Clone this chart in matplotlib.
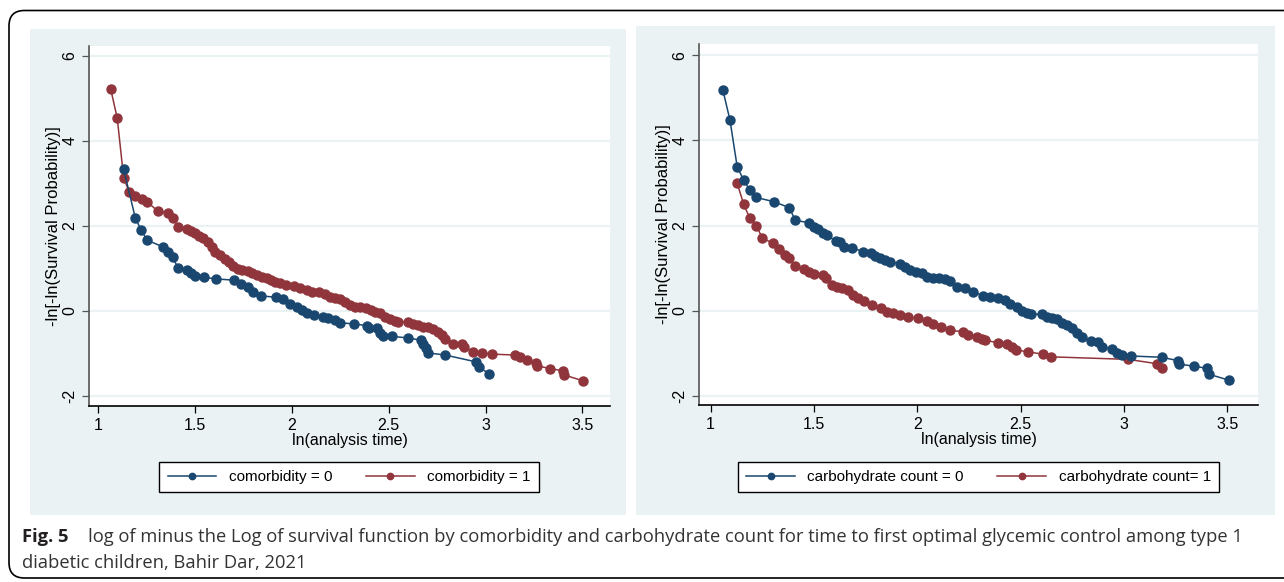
import matplotlib
matplotlib.use("Agg")
import matplotlib.pyplot as plt
from matplotlib.patches import Rectangle, FancyBboxPatch

# --- data: ln(time) and -ln[-ln(S)] ---
como0_x = [1.130, 1.190, 1.221, 1.252, 1.335, 1.359, 1.383, 1.411, 1.456, 1.478,
           1.499, 1.545, 1.607, 1.702, 1.738, 1.774, 1.800, 1.838, 1.917, 1.955,
           1.990, 2.024, 2.050, 2.076, 2.115, 2.159, 2.188, 2.222, 2.248, 2.321,
           2.390, 2.400, 2.438, 2.455, 2.469, 2.515, 2.601, 2.665, 2.679, 2.691,
           2.701, 2.791, 2.949, 2.968, 3.018]
como0_y = [3.33, 2.19, 1.89, 1.66, 1.50, 1.39, 1.26, 1.01, 0.97, 0.88,
           0.83, 0.79, 0.75, 0.72, 0.64, 0.55, 0.45, 0.35, 0.32, 0.27,
           0.16, 0.08, 0.02, -0.05, -0.09, -0.14, -0.18, -0.22, -0.28, -0.31,
           -0.35, -0.40, -0.41, -0.53, -0.60, -0.60, -0.64, -0.69, -0.77, -0.87,
           -0.99, -1.04, -1.20, -1.32, -1.49]

como1_x = [1.063, 1.097, 1.130, 1.159, 1.190, 1.223, 1.252, 1.306, 1.359, 1.383,
           1.411, 1.456, 1.478, 1.499, 1.519, 1.542, 1.564, 1.585, 1.602, 1.628,
           1.654, 1.674, 1.697, 1.722, 1.740, 1.774, 1.792, 1.818, 1.843, 1.869,
           1.890, 1.912, 1.938, 1.969, 2.010, 2.041, 2.076, 2.102, 2.141, 2.171,
           2.197, 2.222, 2.248, 2.274, 2.300, 2.326, 2.351, 2.382, 2.407, 2.429,
           2.455, 2.481, 2.507, 2.532, 2.549, 2.601, 2.627, 2.653, 2.679, 2.704,
           2.730, 2.756, 2.774, 2.791, 2.834, 2.877, 2.889, 2.937, 2.984, 3.032,
           3.152, 3.178, 3.213, 3.261, 3.264, 3.333, 3.399, 3.407, 3.505]
como1_y = [5.22, 4.53, 3.13, 2.79, 2.71, 2.62, 2.56, 2.35, 2.29, 2.19,
           1.98, 1.93, 1.88, 1.82, 1.77, 1.71, 1.62, 1.49, 1.39, 1.31,
           1.23, 1.15, 1.05, 0.99, 0.96, 0.94, 0.89, 0.84, 0.79, 0.76,
           0.72, 0.68, 0.66, 0.60, 0.58, 0.53, 0.49, 0.45, 0.45, 0.39,
           0.33, 0.29, 0.27, 0.21, 0.13, 0.08, 0.08, 0.06, 0.03, -0.02,
           -0.06, -0.14, -0.20, -0.24, -0.26, -0.26, -0.30, -0.34, -0.38, -0.39,
           -0.43, -0.49, -0.57, -0.67, -0.77, -0.78, -0.86, -0.96, -0.99, -1.02,
           -1.04, -1.08, -1.16, -1.24, -1.29, -1.36, -1.41, -1.51, -1.65]

carb0_x = [1.060, 1.094, 1.129, 1.160, 1.190, 1.221, 1.306, 1.381, 1.410, 1.476,
           1.500, 1.521, 1.542, 1.561, 1.605, 1.626, 1.645, 1.684, 1.737, 1.774,
           1.795, 1.819, 1.843, 1.868, 1.916, 1.940, 1.964, 1.993, 2.021, 2.048,
           2.077, 2.106, 2.134, 2.158, 2.190, 2.231, 2.271, 2.319, 2.352, 2.392,
           2.424, 2.448, 2.481, 2.505, 2.529, 2.548, 2.602, 2.626, 2.650, 2.674,
           2.698, 2.723, 2.747, 2.771, 2.795, 2.839, 2.875, 2.892, 2.943, 2.964,
           2.989, 3.034, 3.182, 3.262, 3.267, 3.338, 3.403, 3.412, 3.509]
carb0_y = [5.17, 4.47, 3.37, 3.07, 2.83, 2.66, 2.56, 2.42, 2.12, 2.07,
           1.97, 1.91, 1.83, 1.78, 1.64, 1.61, 1.50, 1.48, 1.39, 1.35,
           1.28, 1.23, 1.19, 1.15, 1.10, 1.03, 0.96, 0.92, 0.88, 0.80,
           0.78, 0.76, 0.74, 0.69, 0.57, 0.53, 0.45, 0.35, 0.33, 0.31,
           0.25, 0.17, 0.09, 0.00, -0.06, -0.08, -0.08, -0.14, -0.16, -0.20,
           -0.28, -0.34, -0.40, -0.52, -0.62, -0.70, -0.73, -0.85, -0.90, -1.00,
           -1.04, -1.06, -1.09, -1.17, -1.25, -1.30, -1.35, -1.49, -1.63]

carb1_x = [1.129, 1.160, 1.190, 1.221, 1.250, 1.303, 1.332, 1.360, 1.381, 1.410,
           1.453, 1.477, 1.500, 1.542, 1.558, 1.586, 1.610, 1.634, 1.666, 1.690,
           1.714, 1.742, 1.779, 1.823, 1.852, 1.884, 1.916, 1.956, 2.002, 2.045,
           2.077, 2.113, 2.158, 2.222, 2.247, 2.287, 2.311, 2.327, 2.392, 2.432,
           2.456, 2.477, 2.534, 2.609, 2.647, 3.021, 3.158, 3.182]
carb1_y = [2.99, 2.50, 2.17, 2.00, 1.71, 1.58, 1.46, 1.31, 1.23, 1.05,
           0.97, 0.90, 0.86, 0.83, 0.76, 0.60, 0.56, 0.53, 0.49, 0.37,
           0.29, 0.23, 0.13, 0.06, -0.02, -0.06, -0.10, -0.14, -0.18, -0.24,
           -0.32, -0.38, -0.46, -0.49, -0.57, -0.61, -0.65, -0.69, -0.75, -0.78,
           -0.85, -0.92, -0.96, -1.02, -1.08, -1.14, -1.24, -1.35]

x_ticks = [1, 1.5, 2, 2.5, 3, 3.5]
x_tick_labels = ["1", "1.5", "2", "2.5", "3", "3.5"]
y_ticks = [-2, 0, 2, 4, 6]
y_tick_labels = ["-2", "0", "2", "4", "6"]

NAVY = "#1a476f"
MAROON = "#90353b"
PANEL = "#eaf2f3"

W, H = 1284, 582
fig = plt.figure(figsize=(W / 100, H / 100), dpi=100)
fig.patch.set_facecolor("white")
plt.rcParams["font.family"] = ["Liberation Sans", "DejaVu Sans"]


def rect(x0, y0, x1, y1):
    # pixel box (top-left origin) -> figure fraction
    return [x0 / W, 1 - y1 / H, (x1 - x0) / W, (y1 - y0) / H]


# rounded frame round the whole figure
frame = FancyBboxPatch((9 / W, 4 / H), 1.2, 1 - 14.5 / H, transform=fig.transFigure,
                       boxstyle="round,pad=0,rounding_size=0.012",
                       facecolor="none", edgecolor="black", linewidth=1.2,
                       mutation_aspect=W / H, zorder=-2)
fig.patches.append(frame)

# stata-like panel backgrounds
for box in [(30, 29, 626, 515), (636, 26, 1275, 515)]:
    r = rect(*box)
    fig.patches.append(Rectangle((r[0], r[1]), r[2], r[3], transform=fig.transFigure,
                                 facecolor=PANEL, edgecolor="none", zorder=-1))

panels = [
    dict(box=(89, 46, 610, 406), xlim=(0.951, 3.643), ylim=(-2.24, 6.23),
         s0=(como0_x, como0_y), s1=(como1_x, como1_y),
         labels=("comorbidity = 0", "comorbidity = 1"), legx=349),
    dict(box=(699, 44, 1258, 405), xlim=(0.944, 3.648), ylim=(-2.21, 6.26),
         s0=(carb0_x, carb0_y), s1=(carb1_x, carb1_y),
         labels=("carbohydrate count = 0", "carbohydrate count= 1"), legx=978.5),
]

for p in panels:
    ax = fig.add_axes(rect(*p["box"]))
    ax.set_facecolor("white")
    ax.set_xlim(*p["xlim"])
    ax.set_ylim(*p["ylim"])
    for yt in y_ticks:
        ax.axhline(yt, color=PANEL, linewidth=1.6, zorder=0)

    h0, = ax.plot(*p["s0"], color=NAVY, marker="o", markersize=6.5, linewidth=1.1,
                  label=p["labels"][0], zorder=3)
    h1, = ax.plot(*p["s1"], color=MAROON, marker="o", markersize=6.5, linewidth=1.1,
                  label=p["labels"][1], zorder=2)

    ax.set_xticks(x_ticks)
    ax.set_xticklabels(x_tick_labels)
    ax.set_yticks(y_ticks)
    ax.set_yticklabels(y_tick_labels, rotation=90, va="center")
    ax.tick_params(direction="out", length=5, width=0.9, labelsize=11.5, colors="black")
    ax.tick_params(axis="y", colors="#555555", labelcolor="black")
    for side in ["top", "right"]:
        ax.spines[side].set_visible(False)
    ax.spines["left"].set_color("#555555")
    ax.spines["left"].set_linewidth(1.2)
    ax.spines["bottom"].set_linewidth(1.2)

    ax.set_xlabel("ln(analysis time)", fontsize=11.5, labelpad=0)
    ax.set_ylabel("-ln[-ln(Survival Probability)]", fontsize=12, labelpad=1)

    leg = fig.legend(handles=[h0, h1], loc="center", ncol=2,
                     bbox_to_anchor=(p["legx"] / W, 1 - 477 / H),
                     fontsize=11, frameon=True, fancybox=False, edgecolor="black",
                     facecolor="white", framealpha=1,
                     handlelength=3.2, markerscale=0.7, columnspacing=2.2,
                     borderpad=0.55, handletextpad=0.8)
    leg.get_frame().set_linewidth(1.0)

# caption
fig.text(22 / W, 1 - 537 / H, "Fig. 5", fontsize=13.2, fontweight="bold",
         family="Open Sans", color="#231f20", va="center")
fig.text(88 / W, 1 - 537 / H,
         "log of minus the Log of survival function by comorbidity and carbohydrate "
         "count for time to first optimal glycemic control among type 1",
         fontsize=13.2, family="Open Sans", color="#333333", va="center")
fig.text(22 / W, 1 - 563 / H, "diabetic children, Bahir Dar, 2021",
         fontsize=13.2, family="Open Sans", color="#333333", va="center")

fig.savefig("out.png", dpi=100)
